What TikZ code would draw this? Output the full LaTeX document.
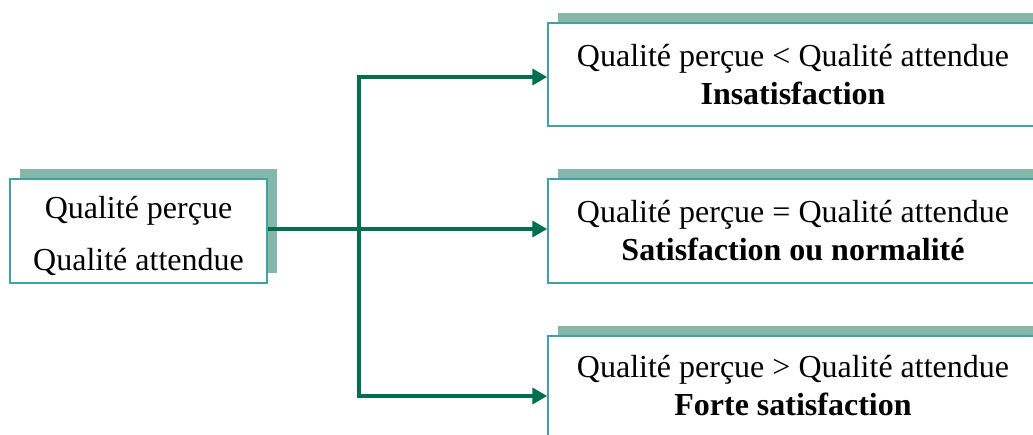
\documentclass[tikz,border=0pt]{standalone}
\usepackage{fontspec}
\setmainfont{Liberation Serif}
\usetikzlibrary{arrows.meta,shadows,positioning}
\definecolor{boxline}{HTML}{3FA3A3}
\definecolor{shade}{HTML}{86B6A8}
\definecolor{flow}{HTML}{006F4E}
\tikzset{
  card/.style={draw=boxline, line width=1.5pt, fill=white, align=center,
    inner sep=0pt, font=\fontsize{32}{38}\selectfont,
    drop shadow={shadow xshift=10pt, shadow yshift=10pt, fill=shade, opacity=1}},
  link/.style={draw=flow, line width=4pt, -{Triangle[length=15pt,width=16pt]}},
}
\begin{document}
\begin{tikzpicture}[x=1pt,y=-1pt]
  \useasboundingbox (0,0) rectangle (1033,434);
  \clip (0,0) rectangle (1033,434);

  % source box, its two lines set a little below the centre
  \node[card, minimum width=257pt, minimum height=104pt,
        label={[align=center, inner sep=0pt, yshift=-5pt,
                font=\fontsize{32}{52}\selectfont]center:Qualité perçue\\Qualité attendue}]
    (src) at (138.5,231) {};

  % outcome boxes
  \node[card, minimum width=490pt, minimum height=103pt] (low) at (793,74.5)
    {Qualité perçue < Qualité attendue\\\textbf{Insatisfaction}};
  \node[card, minimum width=490pt, minimum height=104pt] (mid) at (793,231)
    {Qualité perçue = Qualité attendue\\\textbf{Satisfaction ou normalité}};
  \node[card, minimum width=490pt, minimum height=100pt] (high) at (793,386)
    {Qualité perçue > Qualité attendue\\\textbf{Forte satisfaction}};

  % branching connectors
  \coordinate (fork) at (359,229);
  \draw[link] ([yshift=2pt]src.east) -- ([yshift=2pt]mid.west);
  \draw[link] (fork) |- ([yshift=-2.5pt]low.west);
  \draw[link] (fork) |- ([yshift=-10pt]high.west);
\end{tikzpicture}
\end{document}
